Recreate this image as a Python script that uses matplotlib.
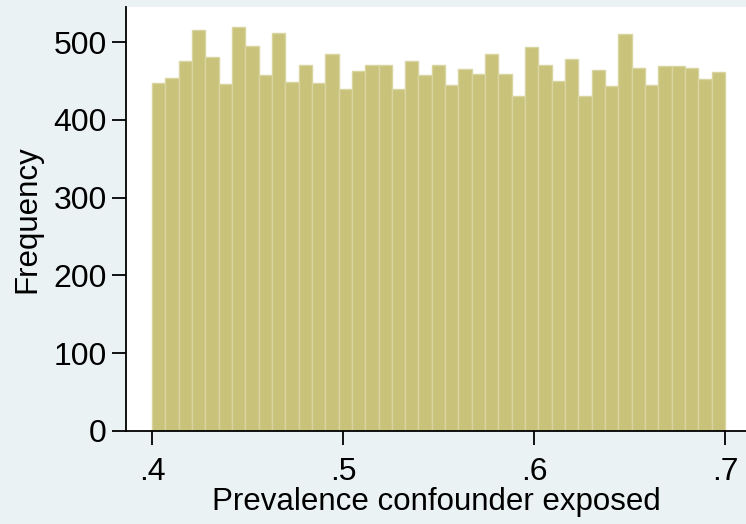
import numpy as np
import matplotlib
matplotlib.use("Agg")
import matplotlib.pyplot as plt

# histogram counts (43 bins from .4 to .7)
bin_start = 0.4
bin_end = 0.7
counts = [447, 454, 475, 515, 481, 446, 519, 495, 457, 512,
          449, 471, 447, 485, 439, 463, 471, 471, 440, 475,
          457, 470, 445, 465, 459, 484, 459, 430, 493, 470,
          450, 478, 430, 464, 444, 510, 467, 445, 469, 469,
          467, 453, 462]
x_ticks = [0.4, 0.5, 0.6, 0.7]
x_tick_labels = [".4", ".5", ".6", ".7"]
y_ticks = [0, 100, 200, 300, 400, 500]

plt.rcParams['font.family'] = ['Liberation Sans', 'DejaVu Sans']

edges = np.linspace(bin_start, bin_end, len(counts) + 1)
widths = np.diff(edges)

fig = plt.figure(figsize=(7.46, 5.24), dpi=100, facecolor='#EAF2F3')
ax = fig.add_axes([126 / 746, 93 / 524, 620 / 746, 424 / 524])
ax.set_facecolor('white')

ax.bar(edges[:-1], counts, width=widths, align='edge',
       color='#C8C27A', edgecolor='#D9D5A0', linewidth=1.0)

ax.set_xlim(0.3864, 0.711)
ax.set_ylim(0, 545)
ax.set_xticks(x_ticks)
ax.set_xticklabels(x_tick_labels)
ax.set_yticks(y_ticks)

for side in ['top', 'right']:
    ax.spines[side].set_visible(False)
for side in ['left', 'bottom']:
    ax.spines[side].set_linewidth(1.3)

ax.tick_params(axis='both', labelsize=23, length=10, width=1.3)
ax.tick_params(axis='x', pad=9)
ax.tick_params(axis='y', pad=4)

ax.set_xlabel('Prevalence confounder exposed', fontsize=22.5, labelpad=0)
ax.set_ylabel('Frequency', fontsize=22.5, labelpad=8)

fig.savefig('out.png', dpi=100, facecolor=fig.get_facecolor())
